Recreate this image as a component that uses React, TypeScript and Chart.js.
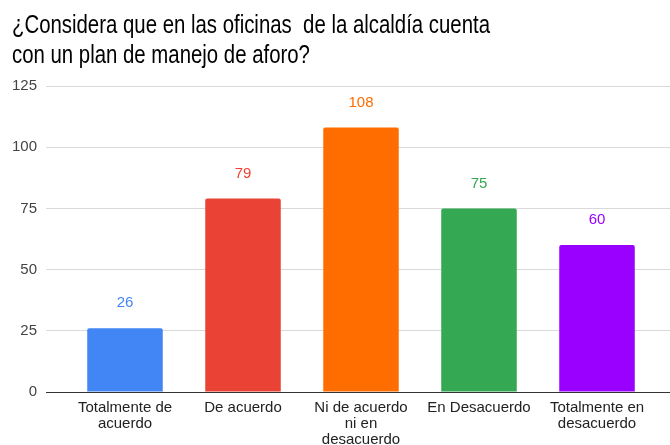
import React, { useEffect, useRef } from "react";
import { Chart, registerables } from "chart.js";

Chart.register(...registerables);

const titleLines = [
  "¿Considera que en las oficinas  de la alcaldía cuenta",
  "con un plan de manejo de aforo?",
];
const categories = [
  ["Totalmente de", "acuerdo"],
  ["De acuerdo"],
  ["Ni de acuerdo", "ni en", "desacuerdo"],
  ["En Desacuerdo"],
  ["Totalmente en", "desacuerdo"],
];
const values = [26, 79, 108, 75, 60];
const barColors = ["#4285F4", "#EA4335", "#FF6D01", "#34A853", "#9900FF"];
const yTicks = [0, 25, 50, 75, 100, 125];

const FONT = "'Liberation Sans', Arial, sans-serif";

// Title drawn in a condensed (narrow) form, like the reference's narrow sans font.
const narrowTitle = {
  id: "narrowTitle",
  afterDraw(chart: any) {
    const { ctx } = chart;
    ctx.save();
    ctx.font = `25px ${FONT}`;
    ctx.fillStyle = "#000000";
    ctx.textAlign = "left";
    ctx.textBaseline = "alphabetic";
    const sx = 0.815;
    ctx.translate(12, 0);
    ctx.scale(sx, 1);
    titleLines.forEach((line, i) => {
      ctx.fillText(line, 0, 33 + i * 30);
    });
    ctx.restore();
  },
};

const valueLabels = {
  id: "valueLabels",
  afterDatasetsDraw(chart: any) {
    const { ctx } = chart;
    const meta = chart.getDatasetMeta(0);
    ctx.save();
    ctx.font = `15px ${FONT}`;
    ctx.textAlign = "center";
    ctx.textBaseline = "middle";
    meta.data.forEach((bar: any, i: number) => {
      ctx.fillStyle = barColors[i];
      ctx.fillText(String(values[i]), bar.x, bar.y - 25);
    });
    ctx.restore();
  },
};

export default function App() {
  const ref = useRef<HTMLCanvasElement | null>(null);
  useEffect(() => {
    if (!ref.current) return;
    const gridColor = (c: any) => (c.tick && c.tick.value === 0 ? "#333333" : "#d9d9d9");
    const chart = new Chart(ref.current, {
      type: "bar",
      data: {
        labels: categories as any,
        datasets: [
          {
            data: values,
            backgroundColor: barColors,
            borderWidth: 0,
            borderRadius: { topLeft: 2, topRight: 2, bottomLeft: 0, bottomRight: 0 },
            borderSkipped: false,
            barPercentage: 0.64,
            categoryPercentage: 1,
          },
        ],
      },
      options: {
        animation: false,
        responsive: true,
        maintainAspectRatio: false,
        layout: { padding: { left: 12, right: 0, top: 86, bottom: 0 } },
        plugins: {
          legend: { display: false },
          tooltip: { enabled: false },
          title: { display: false },
        },
        scales: {
          x: {
            grid: { display: false, drawTicks: false },
            border: { display: false },
            ticks: {
              color: "#222222",
              font: { family: FONT, size: 15, lineHeight: 1.07 },
              padding: 8,
              maxRotation: 0,
              autoSkip: false,
            },
            afterFit(scale: any) {
              scale.height = 53;
            },
          },
          y: {
            min: 0,
            max: 125,
            afterBuildTicks(scale: any) {
              scale.ticks = yTicks.map((v) => ({ value: v }));
            },
            grid: { color: gridColor, tickLength: 20, lineWidth: 1 },
            border: { display: false },
            ticks: {
              color: "#444444",
              font: { family: FONT, size: 15 },
              padding: 9,
            },
            afterFit(scale: any) {
              scale.width = 54;
            },
          },
          y2: {
            position: "right",
            min: 0,
            max: 125,
            afterBuildTicks(scale: any) {
              scale.ticks = yTicks.map((v) => ({ value: v }));
            },
            grid: { color: gridColor, tickLength: 14, drawOnChartArea: false },
            border: { display: false },
            ticks: { display: false },
            afterFit(scale: any) {
              scale.width = 14;
            },
          },
        },
      },
      plugins: [valueLabels, narrowTitle],
    });
    return () => chart.destroy();
  }, []);
  return (
    <div style={{ position: "absolute", left: 0, top: 0, width: 670, height: 445, background: "#ffffff" }}>
      <canvas ref={ref} />
    </div>
  );
}
